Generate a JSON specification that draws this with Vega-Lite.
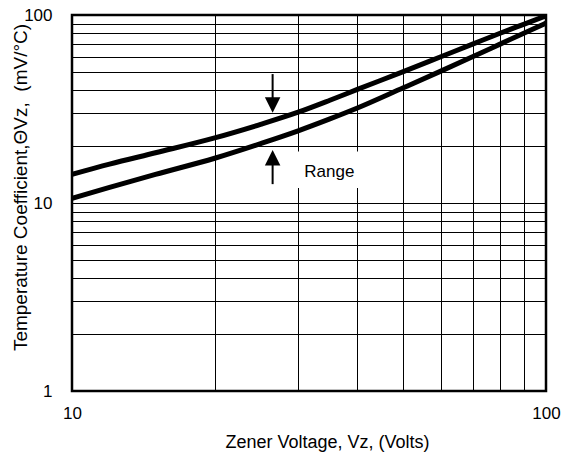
{
  "$schema": "https://vega.github.io/schema/vega-lite/v6.json",
  "width": 474,
  "height": 376,
  "autosize": "none",
  "padding": {"left": 72, "top": 15, "right": 20, "bottom": 66},
  "background": "white",
  "config": {
    "font": "Liberation Sans",
    "view": {"stroke": "black", "strokeWidth": 2.5},
    "axis": {
      "labelFont": "Liberation Sans",
      "titleFont": "Liberation Sans",
      "labelColor": "black",
      "titleColor": "black",
      "titleFontWeight": "normal",
      "domain": false,
      "ticks": false,
      "tickSize": 0,
      "gridColor": "black",
      "gridOpacity": 1,
      "gridWidth": 1
    }
  },
  "datasets": {
    "curves": [
      {"v": 10, "tc": 14.2, "edge": "upper"},
      {"v": 12, "tc": 16.1, "edge": "upper"},
      {"v": 15, "tc": 18.5, "edge": "upper"},
      {"v": 20, "tc": 22.2, "edge": "upper"},
      {"v": 25, "tc": 26.2, "edge": "upper"},
      {"v": 30, "tc": 30.4, "edge": "upper"},
      {"v": 35, "tc": 35.2, "edge": "upper"},
      {"v": 40, "tc": 40.2, "edge": "upper"},
      {"v": 50, "tc": 50.0, "edge": "upper"},
      {"v": 60, "tc": 60, "edge": "upper"},
      {"v": 70, "tc": 70, "edge": "upper"},
      {"v": 80, "tc": 80, "edge": "upper"},
      {"v": 90, "tc": 89.5, "edge": "upper"},
      {"v": 100, "tc": 99, "edge": "upper"},
      {"v": 10, "tc": 10.6, "edge": "lower"},
      {"v": 12, "tc": 12.1, "edge": "lower"},
      {"v": 15, "tc": 14.2, "edge": "lower"},
      {"v": 20, "tc": 17.3, "edge": "lower"},
      {"v": 25, "tc": 20.7, "edge": "lower"},
      {"v": 30, "tc": 24.2, "edge": "lower"},
      {"v": 35, "tc": 28.0, "edge": "lower"},
      {"v": 40, "tc": 32.0, "edge": "lower"},
      {"v": 50, "tc": 41.0, "edge": "lower"},
      {"v": 60, "tc": 50.3, "edge": "lower"},
      {"v": 70, "tc": 60, "edge": "lower"},
      {"v": 80, "tc": 70, "edge": "lower"},
      {"v": 90, "tc": 80.2, "edge": "lower"},
      {"v": 100, "tc": 90.5, "edge": "lower"}
    ],
    "box": [{"x1": 28.8, "x2": 41.5, "y1": 12.0, "y2": 18.8}],
    "label": [{"x": 34.9, "y": 14.6, "text": "Range"}],
    "shafts": [
      {"x": 26.5, "y1": 48.5, "y2": 35.5},
      {"x": 26.5, "y1": 16.2, "y2": 12.6}
    ],
    "heads": [
      {"x": 26.5, "y": 33.2, "dir": "down"},
      {"x": 26.5, "y": 17.4, "dir": "up"}
    ]
  },
  "layer": [
    {
      "data": {"name": "curves"},
      "mark": {"type": "line", "color": "black", "strokeWidth": 5, "interpolate": "monotone", "clip": true},
      "encoding": {
        "x": {
          "field": "v", "type": "quantitative",
          "scale": {"type": "log", "domain": [10, 100], "nice": false},
          "axis": {
            "values": [10, 20, 30, 40, 50, 60, 70, 80, 90, 100],
            "format": "d",
            "labelExpr": "datum.value == 10 || datum.value == 100 ? datum.label : ''",
            "labelFontSize": 17,
            "labelPadding": 14,
            "labelFlush": false,
            "grid": true,
            "title": "Zener Voltage, Vz, (Volts)",
            "titleFontSize": 18,
            "titleX": 255,
            "titleY": 56,
            "titleBaseline": "alphabetic"
          }
        },
        "y": {
          "field": "tc", "type": "quantitative",
          "scale": {"type": "log", "domain": [1, 100], "nice": false},
          "axis": {
            "values": [1, 2, 3, 4, 5, 6, 7, 8, 9, 10, 20, 30, 40, 50, 60, 70, 80, 90, 100],
            "format": "d",
            "labelExpr": "datum.value == 1 || datum.value == 10 || datum.value == 100 ? datum.label : ''",
            "labelFontSize": 17,
            "labelPadding": 20,
            "labelFlush": false,
            "grid": true,
            "title": "Temperature Coefficient,ΘVz,\u00a0 (mV/°C)",
            "titleFontSize": 19,
            "titleX": -52,
            "titleY": 172,
            "titleAngle": -90,
            "titleBaseline": "middle",
            "titleAlign": "center"
          }
        },
        "detail": {"field": "edge"}
      }
    },
    {
      "data": {"name": "box"},
      "mark": {"type": "rect", "fill": "white", "stroke": null},
      "encoding": {
        "x": {"field": "x1", "type": "quantitative"},
        "x2": {"field": "x2"},
        "y": {"field": "y1", "type": "quantitative"},
        "y2": {"field": "y2"}
      }
    },
    {
      "data": {"name": "label"},
      "mark": {"type": "text", "fontSize": 17, "color": "black", "align": "center", "baseline": "middle", "font": "Liberation Sans"},
      "encoding": {
        "x": {"field": "x", "type": "quantitative"},
        "y": {"field": "y", "type": "quantitative"},
        "text": {"field": "text"}
      }
    },
    {
      "data": {"name": "shafts"},
      "mark": {"type": "rule", "color": "black", "strokeWidth": 2},
      "encoding": {
        "x": {"field": "x", "type": "quantitative"},
        "y": {"field": "y1", "type": "quantitative"},
        "y2": {"field": "y2"}
      }
    },
    {
      "data": {"name": "heads"},
      "mark": {"type": "point", "filled": true, "color": "black", "opacity": 1, "size": 240},
      "encoding": {
        "x": {"field": "x", "type": "quantitative"},
        "y": {"field": "y", "type": "quantitative"},
        "shape": {
          "field": "dir", "type": "nominal",
          "scale": {"domain": ["down", "up"], "range": ["M-1,-1L1,-1L0,1Z", "M-1,1L1,1L0,-1Z"]},
          "legend": null
        }
      }
    }
  ]
}
